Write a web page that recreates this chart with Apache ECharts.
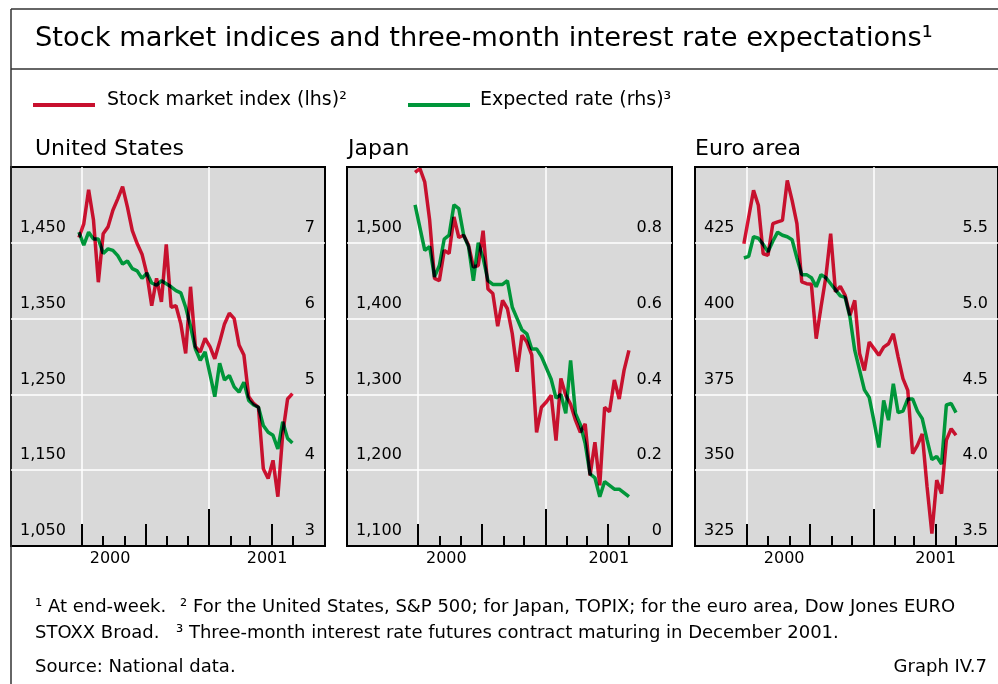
<!DOCTYPE html>
<html>
<head>
<meta charset="utf-8">
<script src="https://cdn.jsdelivr.net/npm/echarts@6/dist/echarts.min.js"></script>
<style>
html, body { margin: 0; padding: 0; background: #fff; }
#chart { width: 998px; height: 684px; }
</style>
</head>
<body>
<div id="chart"></div>
<script>
// end-week observations, first one in late June 2000
var firstWeek = '2000-06-27';

var usIndex = [1457, 1475, 1520, 1480, 1398, 1462, 1471, 1493, 1508, 1524,
  1497, 1466, 1449, 1435, 1409, 1367, 1403, 1372, 1448, 1365,
  1367, 1343, 1304, 1392, 1313, 1306, 1324, 1313, 1297, 1319,
  1343, 1357, 1350, 1315, 1302, 1247, 1238, 1233, 1152, 1139,
  1163, 1115, 1198, 1244, 1251];
var usRate = [7.14, 6.97, 7.14, 7.05, 7.05, 6.86, 6.92, 6.90, 6.83, 6.72,
  6.76, 6.66, 6.63, 6.53, 6.60, 6.47, 6.44, 6.50, 6.46, 6.42,
  6.37, 6.34, 6.15, 5.90, 5.60, 5.45, 5.56, 5.27, 4.97, 5.41,
  5.19, 5.25, 5.10, 5.03, 5.16, 4.92, 4.86, 4.83, 4.59, 4.50,
  4.46, 4.28, 4.64, 4.42, 4.36];

var jpIndex = [1593, 1598, 1580, 1530, 1453, 1450, 1490, 1486, 1534, 1507,
  1510, 1497, 1468, 1470, 1516, 1439, 1433, 1390, 1424, 1413,
  1380, 1330, 1378, 1369, 1352, 1250, 1283, 1290, 1299, 1239,
  1321, 1299, 1287, 1266, 1250, 1261, 1193, 1237, 1180, 1283,
  1277, 1319, 1294, 1332, 1358];
var jpRate = [0.90, 0.84, 0.78, 0.79, 0.71, 0.74, 0.81, 0.82, 0.90, 0.89,
  0.82, 0.79, 0.70, 0.80, 0.76, 0.70, 0.69, 0.69, 0.69, 0.70,
  0.63, 0.60, 0.57, 0.56, 0.52, 0.52, 0.50, 0.47, 0.44, 0.39,
  0.40, 0.35, 0.49, 0.35, 0.32, 0.27, 0.19, 0.18, 0.13, 0.17,
  0.16, 0.15, 0.15, 0.14, 0.13];

var euIndex = [424.7, 433.5, 442.3, 437.4, 421.4, 420.9, 431.3, 431.9, 432.4, 445.6,
  439.0, 431.3, 412.1, 411.5, 411.3, 393.4, 403.8, 413.7, 428.0, 408.8,
  410.6, 407.7, 401.1, 406.0, 388.5, 382.9, 392.3, 390.1, 387.9, 390.6,
  391.7, 395.0, 387.3, 380.2, 376.3, 355.5, 358.2, 362.0, 344.5, 329.1,
  346.7, 342.3, 359.9, 363.7, 361.5];
var euRate = [5.40, 5.41, 5.54, 5.53, 5.49, 5.44, 5.51, 5.57, 5.55, 5.54,
  5.52, 5.40, 5.29, 5.29, 5.27, 5.21, 5.29, 5.27, 5.23, 5.19,
  5.15, 5.14, 5.01, 4.79, 4.66, 4.53, 4.48, 4.32, 4.15, 4.46,
  4.33, 4.57, 4.38, 4.39, 4.47, 4.47, 4.39, 4.34, 4.20, 4.07,
  4.09, 4.04, 4.43, 4.44, 4.38];

var panelTitles = ['United States', 'Japan', 'Euro area'];
var yearLabels = ['2000', '2001'];
var monthTicks = ['2000-07-01', '2000-08-01', '2000-09-01', '2000-10-01', '2000-11-01', '2000-12-01',
  '2001-01-01', '2001-02-01', '2001-03-01', '2001-04-01', '2001-05-01'];
var quarterTicks = ['2000-07-01', '2000-10-01', '2001-01-01', '2001-04-01'];
var yearStart = '2001-01-01';
var vGridDates = ['2000-07-01', '2001-01-01'];

var FONT = 'DejaVu Sans';
// the stock index is drawn over the rate line with multiply, so overlaps go dark as in print
var RED = '#ea1336', GREEN = '#00963a', PANEL_BG = '#d9d9d9';

// days since 1 Jan 2000
function day(s) {
  var p = s.split('-');
  return (Date.UTC(+p[0], +p[1] - 1, +p[2]) - Date.UTC(2000, 0, 1)) / 864e5;
}
function weekly(values) {
  var d0 = day(firstWeek);
  return values.map(function (v, i) { return [d0 + 7 * i, v]; });
}
var commas = function (v) { return echarts.format.addCommas(v); };

var panels = [
  { title: panelTitles[0], index: usIndex, rate: usRate, left: 11, width: 314, titleX: 35,
    from: '2000-03-21', to: '2001-06-17', lhs: [1050, 1550, 100], rhs: [3, 8, 1],
    lhsFmt: commas, rhsFmt: function (v) { return String(v); } },
  { title: panelTitles[1], index: jpIndex, rate: jpRate, left: 347, width: 325, titleX: 348,
    from: '2000-03-21', to: '2001-07-02', lhs: [1100, 1600, 100], rhs: [0, 1, 0.2],
    lhsFmt: commas, rhsFmt: function (v) { return v === 0 ? '0' : v.toFixed(1); } },
  { title: panelTitles[2], index: euIndex, rate: euRate, left: 695, width: 305, titleX: 695,
    from: '2000-04-17', to: '2001-07-01', lhs: [325, 450, 25], rhs: [3.5, 6, 0.5],
    lhsFmt: function (v) { return String(v); }, rhsFmt: function (v) { return v.toFixed(1); } }
];

var TOP = 167, HEIGHT = 379;
var grids = [], xAxes = [], yAxes = [], series = [], graphics = [];

panels.forEach(function (p, i) {
  grids.push({ left: p.left, top: TOP, width: p.width, height: HEIGHT, show: true,
    backgroundColor: PANEL_BG, borderColor: '#000', borderWidth: 2 });

  var xmin = day(p.from), xmax = day(p.to), jan = day(yearStart);
  var base = function (extra) {
    return Object.assign({ type: 'value', gridIndex: i, min: xmin, max: xmax, position: 'bottom',
      axisLine: { show: false }, axisLabel: { show: false }, axisTick: { show: false },
      splitLine: { show: false } }, extra);
  };
  // month ticks + year labels centred in each year's span
  xAxes.push(base({
    axisTick: { show: true, inside: true, length: 10, customValues: monthTicks.map(day),
      lineStyle: { color: '#000', width: 2 } },
    axisLabel: { show: true, customValues: [(xmin + jan) / 2, (jan + xmax) / 2], margin: 5,
      fontFamily: FONT, fontSize: 16, color: '#000',
      formatter: function (v) { return v < jan ? yearLabels[0] : yearLabels[1]; } }
  }));
  xAxes.push(base({
    axisTick: { show: true, inside: true, length: 22, customValues: quarterTicks.map(day),
      lineStyle: { color: '#000', width: 2 } }
  }));
  xAxes.push(base({
    axisTick: { show: true, inside: true, length: 37, customValues: [jan],
      lineStyle: { color: '#000', width: 2 } }
  }));
  xAxes.push(base({
    axisTick: { show: false, customValues: vGridDates.map(day) },
    splitLine: { show: true, lineStyle: { color: '#fff', width: 1.5 } }
  }));

  var lab = { show: true, inside: true, fontFamily: FONT, fontSize: 16, color: '#000',
    verticalAlign: 'bottom', padding: [0, 0, 7, 0], showMaxLabel: false, showMinLabel: true };
  yAxes.push({ type: 'value', gridIndex: i, position: 'left', min: p.lhs[0], max: p.lhs[1], interval: p.lhs[2],
    axisLine: { show: false }, axisTick: { show: false },
    axisLabel: Object.assign({}, lab, { margin: 9, formatter: p.lhsFmt }),
    splitLine: { show: true, showMinLine: false, showMaxLine: false, lineStyle: { color: '#fff', width: 1.5 } } });
  yAxes.push({ type: 'value', gridIndex: i, position: 'right', min: p.rhs[0], max: p.rhs[1], interval: p.rhs[2],
    axisLine: { show: false }, axisTick: { show: false },
    axisLabel: Object.assign({}, lab, { margin: 10, formatter: p.rhsFmt }),
    splitLine: { show: false } });

  series.push({ type: 'line', name: 'Expected rate (rhs)', xAxisIndex: i * 4, yAxisIndex: i * 2 + 1,
    data: weekly(p.rate), showSymbol: false, lineStyle: { color: GREEN, width: 3.5 }, z: 3 });
  series.push({ type: 'line', name: 'Stock market index (lhs)', xAxisIndex: i * 4, yAxisIndex: i * 2,
    data: weekly(p.index), showSymbol: false, lineStyle: { color: RED, width: 3.5 }, z: 4,
    blendMode: 'multiply' });

  graphics.push({ type: 'text', x: p.titleX, y: 149,
    style: { text: p.title, fontFamily: FONT, fontSize: 22, fill: '#000', verticalAlign: 'middle' } });
});

var frame = { stroke: '#333', lineWidth: 1.5 };
var note = function (x, y, text, align) {
  return { type: 'text', x: x, y: y, style: { text: text, fontFamily: FONT, fontSize: 18, fill: '#000',
    align: align || 'left', verticalAlign: 'middle' } };
};
graphics.push(
  { type: 'line', shape: { x1: 11, y1: 9, x2: 998, y2: 9 }, style: frame },
  { type: 'line', shape: { x1: 11, y1: 69, x2: 998, y2: 69 }, style: frame },
  { type: 'line', shape: { x1: 11, y1: 9, x2: 11, y2: 684 }, style: frame },
  { type: 'text', x: 35, y: 39, style: { text: 'Stock market indices and three-month interest rate expectations\u00b9',
      fontFamily: FONT, fontSize: 27.3, fill: '#000', verticalAlign: 'middle' } },
  { type: 'rect', shape: { x: 33, y: 103, width: 62, height: 4 }, style: { fill: '#c8102e' } },
  { type: 'text', x: 107, y: 100, style: { text: 'Stock market index (lhs)\u00b2',
      fontFamily: FONT, fontSize: 19, fill: '#000', verticalAlign: 'middle' } },
  { type: 'rect', shape: { x: 408, y: 103, width: 62, height: 4 }, style: { fill: GREEN } },
  { type: 'text', x: 480, y: 100, style: { text: 'Expected rate (rhs)\u00b3',
      fontFamily: FONT, fontSize: 19, fill: '#000', verticalAlign: 'middle' } },
  note(35, 607, '\u00b9 At end-week.'),
  note(180, 607, '\u00b2 For the United States, S&P 500; for Japan, TOPIX; for the euro area, Dow Jones EURO'),
  note(35, 633, 'STOXX Broad.'),
  note(176, 633, '\u00b3 Three-month interest rate futures contract maturing in December 2001.'),
  note(35, 667, 'Source: National data.'),
  note(987, 667, 'Graph IV.7', 'right')
);

var chart = echarts.init(document.getElementById('chart'));
chart.setOption({
  animation: false,
  backgroundColor: '#fff',
  grid: grids,
  xAxis: xAxes,
  yAxis: yAxes,
  series: series,
  graphic: graphics
});
</script>
</body>
</html>
